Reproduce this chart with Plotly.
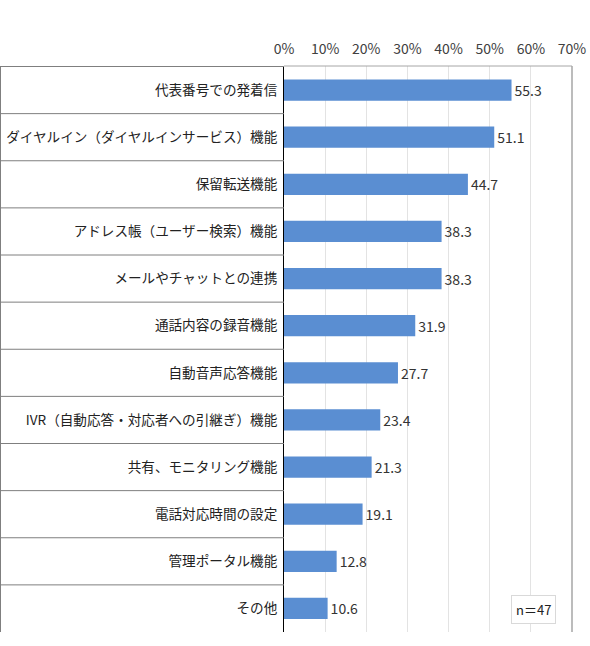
import plotly.graph_objects as go

# ── data ────────────────────────────────────────────────
categories = [
    "代表番号での発着信",
    "ダイヤルイン（ダイヤルインサービス）機能",
    "保留転送機能",
    "アドレス帳（ユーザー検索）機能",
    "メールやチャットとの連携",
    "通話内容の録音機能",
    "自動音声応答機能",
    "IVR（自動応答・対応者への引継ぎ）機能",
    "共有、モニタリング機能",
    "電話対応時間の設定",
    "管理ポータル機能",
    "その他",
]
values = [55.3, 51.1, 44.7, 38.3, 38.3, 31.9, 27.7, 23.4, 21.3, 19.1, 12.8, 10.6]
x_ticks = [0, 10, 20, 30, 40, 50, 60, 70]
x_tick_labels = ["0%", "10%", "20%", "30%", "40%", "50%", "60%", "70%"]
sample_note = "n＝47"

FONT = "Noto Sans CJK JP"
BAR_COLOR = "#5a8ed2"
LEFT_W = 284   # width of the label boxes (px)
PLOT_W = 288   # width of the plotting area (px)

fig = go.Figure()
fig.add_trace(go.Bar(
    x=values,
    y=categories,
    orientation="h",
    width=0.45,
    marker=dict(color=BAR_COLOR, line=dict(width=0)),
    text=values,
    texttemplate="%{x:.1f}",
    textposition="outside",
    textfont=dict(family=FONT, size=14, color="#333333"),
    cliponaxis=False,
))

# label boxes on the left: row separators + outer edge
left_x = -(LEFT_W - 0.5) / PLOT_W
shapes = []
for i in range(len(categories)):
    shapes.append(dict(
        type="line", xref="paper", yref="y",
        x0=left_x, x1=0, y0=i - 0.5, y1=i - 0.5,
        line=dict(color="#7f7f7f", width=1),
    ))
shapes.append(dict(
    type="line", xref="paper", yref="paper",
    x0=left_x, x1=left_x, y0=0, y1=1,
    line=dict(color="#7f7f7f", width=1),
))
# plot frame top / right
shapes.append(dict(
    type="line", xref="paper", yref="paper",
    x0=0, x1=1, y0=1, y1=1,
    line=dict(color="#a6a6a6", width=1),
))
shapes.append(dict(
    type="line", xref="paper", yref="paper",
    x0=1, x1=1, y0=0, y1=1,
    line=dict(color="#a6a6a6", width=1.5),
))

fig.update_layout(
    width=590,
    height=646,
    margin=dict(l=LEFT_W, r=18, t=66, b=14),
    paper_bgcolor="white",
    plot_bgcolor="white",
    showlegend=False,
    font=dict(family=FONT, color="#333333"),
    shapes=shapes,
    bargap=0.55,
    annotations=[dict(
        text=sample_note,
        xref="paper", yref="paper",
        x=(533 - LEFT_W) / PLOT_W, y=(632 - 609) / 566,
        xanchor="center", yanchor="middle",
        showarrow=False,
        font=dict(family=FONT, size=13, color="#222222"),
        bgcolor="white",
        bordercolor="#d9d9d9",
        borderwidth=1,
        borderpad=4,
    )],
)
fig.update_xaxes(
    side="top",
    range=[0, 70],
    tickvals=x_ticks,
    ticktext=x_tick_labels,
    showgrid=True,
    gridcolor="#e3e3e3",
    gridwidth=1,
    zeroline=False,
    showline=False,
    ticks="",
    ticklabelstandoff=8,
    automargin=False,
    tickfont=dict(family=FONT, size=14, color="#404040"),
)
fig.update_yaxes(
    autorange="reversed",
    showgrid=False,
    showline=True,
    linecolor="#000000",
    linewidth=1,
    ticks="",
    ticklabelstandoff=3,
    automargin=False,
    tickfont=dict(family=FONT, size=13.6, color="#222222"),
)

# the page body has a default 8px margin; drop it so the figure sits at (0, 0)
fig.write_html(
    "out.html",
    config={"displayModeBar": False},
    post_script="document.body.style.margin='0';",
)
